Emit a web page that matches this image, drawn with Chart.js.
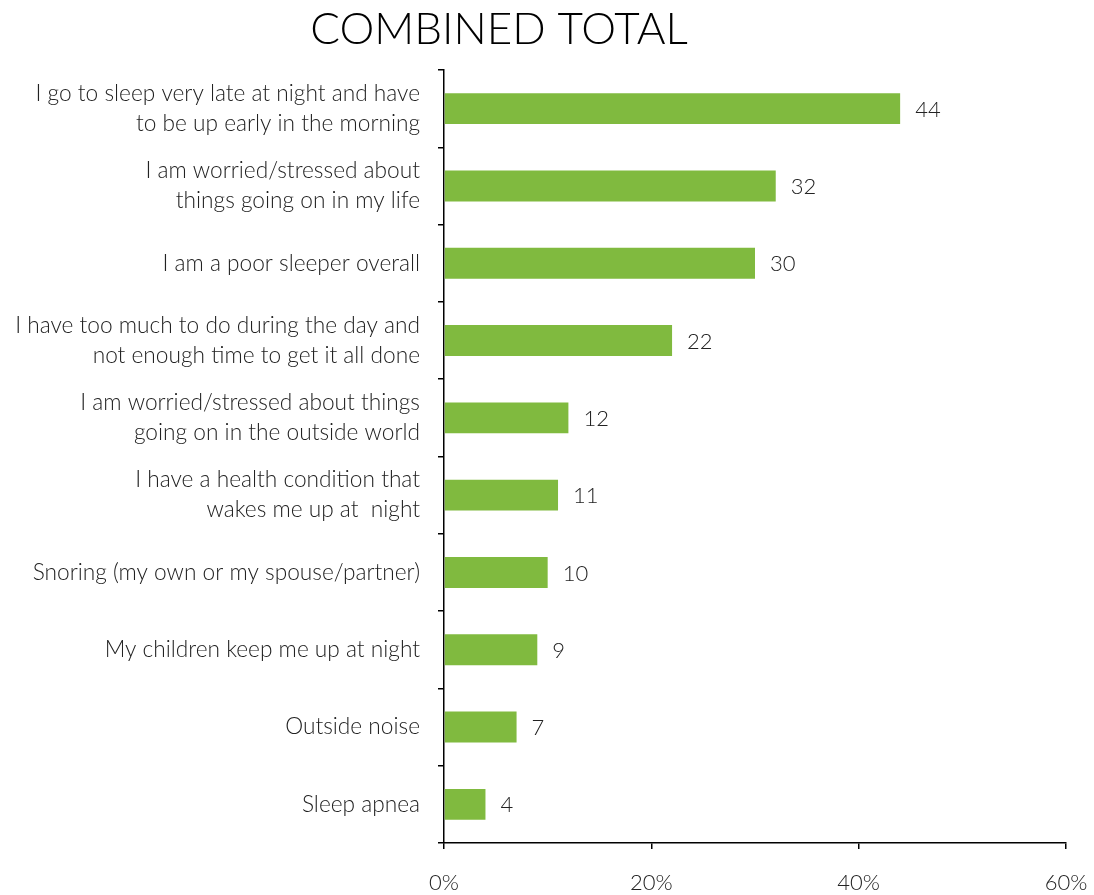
<!DOCTYPE html>
<html>
<head>
<meta charset="utf-8">
<script src="https://cdn.jsdelivr.net/npm/chart.js@4/dist/chart.umd.min.js"></script>
<style>
  html, body { margin: 0; padding: 0; background: #fff; }
  #wrap { width: 1094px; height: 895px; position: relative; }
</style>
</head>
<body>
<div id="wrap"><canvas id="c" width="1094" height="895"></canvas></div>
<script>
// Reasons people give for not getting enough sleep (percent of respondents)
const reasons = [
  ['I go to sleep very late at night and have', 'to be up early in the morning'],
  ['I am worried/stressed about', 'things going on in my life'],
  'I am a poor sleeper overall',
  ['I have too much to do during the day and', 'not enough time to get it all done'],
  ['I am worried/stressed about things', 'going on in the outside world'],
  ['I have a health condition that', 'wakes me up at  night'],
  'Snoring (my own or my spouse/partner)',
  'My children keep me up at night',
  'Outside noise',
  'Sleep apnea'
];
const combinedTotal = [44, 32, 30, 22, 12, 11, 10, 9, 7, 4];
const axisTicks = [0, 20, 40, 60];
const chartTitle = 'COMBINED TOTAL';

const FONT = 'Lato, "Open Sans", sans-serif';
const INK = '#222222';

// Heading drawn above the plot, centred a little left of the page middle
const heading = {
  id: 'heading',
  afterDraw(chart) {
    const { ctx } = chart;
    ctx.save();
    ctx.font = '300 44px ' + FONT;
    ctx.fillStyle = '#000';
    ctx.textAlign = 'center';
    ctx.textBaseline = 'middle';
    ctx.fillText(chartTitle, 499, 30);
    ctx.restore();
  }
};

// Writes each bar's value just past its end
const valueLabels = {
  id: 'valueLabels',
  afterDatasetsDraw(chart) {
    const { ctx } = chart;
    const meta = chart.getDatasetMeta(0);
    ctx.save();
    ctx.font = '300 22px ' + FONT;
    ctx.fillStyle = INK;
    ctx.textAlign = 'left';
    ctx.textBaseline = 'middle';
    meta.data.forEach((bar, i) => {
      ctx.fillText(String(combinedTotal[i]), bar.x + 15, bar.y + 1);
    });
    ctx.restore();
  }
};

new Chart(document.getElementById('c'), {
  type: 'bar',
  data: {
    labels: reasons,
    datasets: [{
      data: combinedTotal,
      backgroundColor: '#80BA3F',
      borderWidth: 0,
      barPercentage: 0.4,
      categoryPercentage: 1.0
    }]
  },
  options: {
    indexAxis: 'y',
    responsive: false,
    animation: false,
    devicePixelRatio: 1,
    layout: { padding: { left: 0, right: 28, top: 70, bottom: 0 } },
    plugins: {
      legend: { display: false },
      tooltip: { enabled: false },
      title: { display: false }
    },
    scales: {
      x: {
        min: 0,
        max: 60,
        afterBuildTicks(scale) {
          scale.ticks = axisTicks.map(v => ({ value: v }));
        },
        afterFit(scale) {
          scale.height = 52;
          scale.paddingRight = 0;
          scale.paddingLeft = 0;
        },
        border: { display: true, color: '#000', width: 1.5 },
        grid: { drawOnChartArea: false, drawTicks: true, tickLength: 6, color: '#000', lineWidth: 1.5 },
        ticks: {
          padding: 21,
          color: INK,
          font: { family: FONT, size: 22, weight: '300' },
          callback: v => v + '%'
        }
      },
      y: {
        afterFit(scale) { scale.width = 444; },
        border: { display: true, color: '#000', width: 1.5 },
        grid: { drawOnChartArea: false, drawTicks: true, tickLength: 6, color: '#000', lineWidth: 1.5, offset: true },
        ticks: {
          padding: 18,
          color: INK,
          autoSkip: false,
          font: { family: FONT, size: 22.7, weight: '300', lineHeight: 1.32 }
        }
      }
    }
  },
  plugins: [valueLabels, heading]
});
</script>
</body>
</html>
